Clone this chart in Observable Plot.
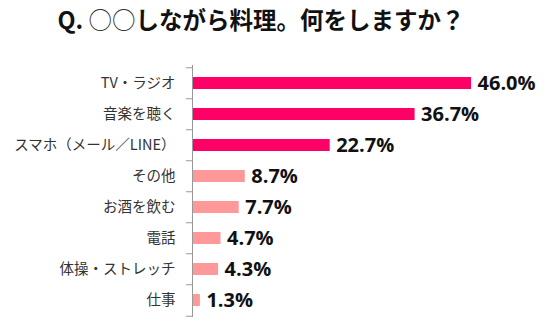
<!DOCTYPE html>
<html><head><meta charset="utf-8">
<script src="https://cdn.jsdelivr.net/npm/d3@7"></script>
<script src="https://cdn.jsdelivr.net/npm/@observablehq/plot@0.6"></script>
<style>
body{margin:0;background:#fff;width:550px;height:332px;overflow:hidden;font-family:"Noto Sans CJK JP",sans-serif;}
#title{height:50px;line-height:38px;font-size:23.5px;font-weight:bold;text-align:center;padding-right:28px;color:#111;}
#title .thin{font-weight:normal;color:#333;}
</style></head>
<body>
<div id="title">Q. <span class="thin">○○</span>しながら料理。何をしますか？</div>
<div id="chart"></div>
<script>
const categories = ["TV・ラジオ","音楽を聴く","スマホ（メール／LINE）","その他","お酒を飲む","電話","体操・ストレッチ","仕事"];
const values = [46.0, 36.7, 22.7, 8.7, 7.7, 4.7, 4.3, 1.3];
const labels = ["46.0%","36.7%","22.7%","8.7%","7.7%","4.7%","4.3%","1.3%"];
const highlighted = [true, true, true, false, false, false, false, false];

const data = categories.map((c,i)=>({cat:c, v:values[i], label:labels[i], hi:highlighted[i]}));
const step = 31.5;

const chart = Plot.plot({
  width: 550, height: 282,
  marginLeft: 192, marginRight: 24.4, marginTop: 15, marginBottom: 15,
  x: {domain: [0, 55], axis: null},
  y: {domain: categories, paddingInner: 0.62, paddingOuter: 0.31, axis: null},
  style: {fontFamily: '"Noto Sans CJK JP", sans-serif', background: "#fff"},
  marks: [
    Plot.barX(data, {y: "cat", x: "v", fill: d => d.hi ? "#FF0066" : "#FF9999"}),
    Plot.ruleX([0], {stroke: "#999", strokeWidth: 1}),
    Plot.ruleY(data, {y: "cat", x1: -1, x2: 0, dy: -step/2, stroke: "#999"}),
    Plot.ruleY(data.slice(-1), {y: "cat", x1: -1, x2: 0, dy: step/2, stroke: "#999"}),
    Plot.axisY({tickSize: 0, tickPadding: 17, fontSize: 14.5, fill: "#333", label: null}),
    Plot.text(data, {y: "cat", x: "v", text: "label", textAnchor: "start", dx: 6, dy: 0,
      fontSize: 20, fontWeight: "bold", fill: "#111", fontFamily: '"Open Sans", sans-serif'})
  ]
});
document.getElementById("chart").appendChild(chart);
</script>
</body></html>
